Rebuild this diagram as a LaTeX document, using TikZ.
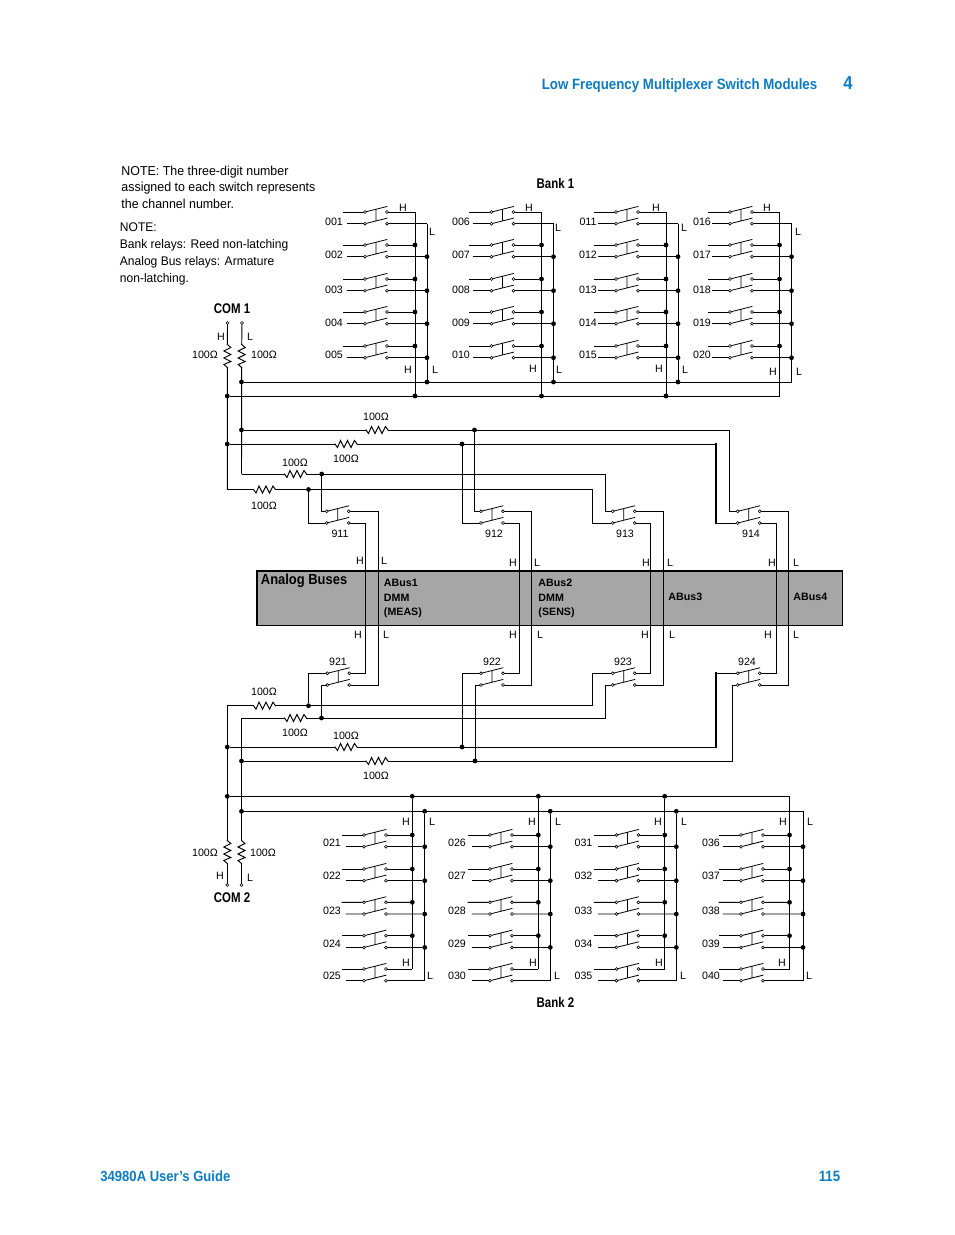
\documentclass[tikz,border=0pt]{standalone}
\usepackage{fontspec}
\setmainfont{Liberation Sans}
\newfontfamily\condfont[FakeStretch=.82]{Liberation Sans}
\newfontfamily\notefont[FakeStretch=.96]{Liberation Sans}
\newfontfamily\pagefont[FakeStretch=.89]{Liberation Sans}
\definecolor{headblue}{HTML}{0A7CC4}
\definecolor{busgrey}{HTML}{A6A6A6}
\newcommand{\channame}[1]{\ifnum#1<10 00\else 0\fi#1}
\tikzset{
  wire/.style={line width=.7pt,line cap=rect},
  heavywire/.style={line width=1.5pt},
  dot/.style={circle,fill=black,inner sep=0pt,minimum size=3.6pt},
  kink/.style={inner sep=0pt,minimum size=0pt},
  term/.style={circle,draw,fill=white,line width=.45pt,inner sep=0pt,minimum size=2.2pt},
  lbl/.style={font=\fontsize{8}{9.6}\selectfont,inner sep=0pt,yshift=-.4pt},
  notetext/.style={font=\notefont\fontsize{9.7}{12.4}\selectfont,inner sep=0pt,anchor=north west,align=left},
  headtext/.style={font=\condfont\bfseries\fontsize{10.5}{12}\selectfont,inner sep=0pt},
  pagetext/.style={font=\pagefont\bfseries\fontsize{11.2}{12}\selectfont,inner sep=0pt,text=headblue},
  bustext/.style={font=\bfseries\fontsize{8}{10.9}\selectfont,inner sep=0pt,anchor=north west,align=left},
  relay/.pic={
    \node[term] (-a) at (0,0) {};
    \node[term] (-b) at (0,11.7) {};
    \node[term] (-c) at (22,0) {};
    \node[term] (-d) at (22,11.7) {};
    \draw[line width=.6pt] (-a) -- (22,-5.5) (-b) -- (22,6.2) (11,-2.75) -- (11,9);
  },
  hres/.pic={
    \coordinate (-w) at (-11,0);
    \coordinate (-e) at (11,0);
    \draw[wire] (-w) -- (-8.5,3.5) -- (-5.5,-3.5) -- (-2,3.5) -- (1.5,-3.5) -- (5,3.5) -- (8.5,-3.5) -- (-e);
  },
  vres/.pic={
    \coordinate (-n) at (0,-11.5);
    \coordinate (-s) at (0,11.5);
    \draw[wire] (-n) -- (3.5,-8.5) -- (-3.5,-5) -- (3.5,-1.5) -- (-3.5,2) -- (3.5,5.5) -- (-3.5,8.5) -- (-s);
  }
}
\begin{document}
\begin{tikzpicture}[x=.75pt,y=-.75pt,every path/.append style={wire}]
  \useasboundingbox (0,0) rectangle (954,1235);
  % page head and foot
  \node[pagetext] (pagehead) at (679.5,85.5) {Low Frequency Multiplexer Switch Modules};
  \node[pagetext,font=\pagefont\bfseries\fontsize{14}{14}\selectfont] (chapnum) at (848,83) {4};
  \node[pagetext,anchor=west,font=\pagefont\bfseries\fontsize{11}{12}\selectfont] (guide) at (100,1176) {34980A User’s Guide};
  \node[pagetext] (pagenum) at (829.5,1176) {115};
  % notes
  \node[notetext] (note1) at (121,165.5) {NOTE: The three-digit number\\assigned to each switch represents\\the channel number.};
  \node[notetext,font=\notefont\fontsize{9.4}{12.7}\selectfont] (note2) at (119.5,222.5) {NOTE:\\Bank relays: Reed non-latching\\Analog Bus relays: Armature\\non-latching.};
  \node[headtext,text=black] (bank1) at (555.5,183.5) {Bank 1};
  \node[headtext,text=black] (bank2) at (555.5,1002) {Bank 2};
  \node[headtext,text=black] (com1) at (232,309) {COM 1};
  \node[headtext,text=black] (com2) at (232,898) {COM 2};
  % analog buses
  \node[draw,fill=busgrey,minimum width=438.7pt,minimum height=40.7pt,inner sep=0pt] (abus) at (550.2,598.2) {};
  \draw[line width=1.5pt,line cap=butt] (abus.south west) -- (abus.north west) -- (abus.north east);
  \node[pagetext,text=black,font=\pagefont\bfseries\fontsize{10.9}{12}\selectfont,anchor=west] (abustitle) at (260.5,581) {Analog Buses};
  \node[bustext] (abus1) at (383.5,579) {ABus1\\DMM\\(MEAS)};
  \node[bustext] (abus2) at (538,579) {ABus2\\DMM\\(SENS)};
  \node[bustext] (abus3) at (668,593) {ABus3};
  \node[bustext] (abus4) at (793,593) {ABus4};
  % bank 1
  \foreach \col/\sx/\tx/\hx/\lx in {0/365/334/415/427,1/491.5/461/541.5/553.5,2/616/588/666/678,3/730/702/779.5/791.5} {
    \foreach \row/\sy/\ty in {1/212/221,2/245/254,3/279/289,4/312/322,5/346/354} {
      \pgfmathtruncatemacro\chan{5*\col+\row}
      \def\jst{dot}\ifnum\row=1 \def\jst{kink}\fi
      \pic (r\chan) at (\sx,\sy) {relay};
      \node[lbl] (t\chan) at (\tx,\ty) {\channame{\chan}};
      \coordinate (ua\chan) at (\sx-22,\sy);
      \coordinate (ub\chan) at (\sx-18,\sy+11.7);
      \node[\jst] (h\chan) at (\hx,\sy) {};
      \node[\jst] (l\chan) at (\lx,\sy+11.7) {};
      \draw (ua\chan) -- (r\chan-a) (ub\chan) -- (r\chan-b);
      \draw (r\chan-c) -- (h\chan) (r\chan-d) -- (l\chan);
    }
    \pgfmathtruncatemacro\topc{5*\col+1}
    \def\jst{dot}\ifnum\col=3 \def\jst{kink}\fi
    \node[\jst] (bh\col) at (\hx,396) {};
    \node[\jst] (bl\col) at (\lx,382) {};
    \draw (h\topc) -- (bh\col) (l\topc) -- (bl\col);
  }
  % bank 2
  \foreach \col/\sx/\tx/\hx/\lx in {0/364/332/412.3/424.7,1/490/457/538.3/550.3,2/616.4/583.5/664.7/676.3,3/741/711/789.5/803} {
    \foreach \row/\sy/\ty in {1/835/842,2/869/875,3/902.3/910,4/935.7/943,5/969/975} {
      \pgfmathtruncatemacro\chan{20+5*\col+\row}
      \def\jst{dot}\ifnum\row=5 \def\jst{kink}\fi
      \pic (r\chan) at (\sx,\sy) {relay};
      \node[lbl] (t\chan) at (\tx,\ty) {\channame{\chan}};
      \coordinate (ua\chan) at (\sx-22,\sy);
      \coordinate (ub\chan) at (\sx-18,\sy+11.7);
      \node[\jst] (h\chan) at (\hx,\sy) {};
      \node[\jst] (l\chan) at (\lx,\sy+11.7) {};
      \draw (ua\chan) -- (r\chan-a) (ub\chan) -- (r\chan-b);
      \draw (r\chan-c) -- (h\chan) (r\chan-d) -- (l\chan);
    }
    \pgfmathtruncatemacro\botc{25+5*\col}
    \def\jst{dot}\ifnum\col=3 \def\jst{kink}\fi
    \node[\jst] (ch\col) at (\hx,796.3) {};
    \node[\jst] (cl\col) at (\lx,811.3) {};
    \draw (ch\col) -- (h\botc) (cl\col) -- (l\botc);
  }
  % common lines
  \node[dot] (dh1) at (227.3,396) {};
  \node[dot] (dl1) at (241.5,382) {};
  \node[dot] (dh3) at (227.3,796.3) {};
  \node[dot] (dl3) at (241.5,811.3) {};
  \draw (dh1) -- (bh3) (dl1) -- (bl3) (dh3) -- (ch3) (dl3) -- (cl3);
  % analog bus relays
  \foreach \n/\ux/\lx/\hx/\bx/\tlx/\blx in {1/326.7/327.3/365.7/378.5/340/338,2/481/481/519.5/531.5/494/492,3/612.7/612.7/650.7/663.3/625/623,4/737.7/737.7/776.7/788.7/751/747} {
    \pic (r91\n) at (\ux,511.3) {relay};
    \pic (r92\n) at (\lx,673.3) {relay};
    \node[lbl] (t91\n) at (\tlx,533) {91\n};
    \node[lbl] (t92\n) at (\blx,661) {92\n};
    \coordinate (vh\n) at (\hx,600);
    \coordinate (vl\n) at (\bx,600);
    \draw (r91\n-d) -| (vh\n) |- (r92\n-c);
    \draw (r91\n-c) -| (vl\n) |- (r92\n-d);
  }
  % resistor lines to the relays
  \foreach \nm/\sx/\sy/\rx/\jx/\vx/\far/\near/\st in {
      a/241.5/430/377/474.5/729.5/r914-a/r912-a/dot,
      b/227.3/444/346/462/716/r914-b/r912-b/dot,
      c/241.5/474/295.5/321.7/605.6/r913-a/r911-a/kink,
      d/227.3/489.5/264.5/308.5/592.7/r913-b/r911-b/kink,
      e/241.5/761/377/475/732.5/r924-b/r922-b/dot,
      f/227.3/747/346/462/716/r924-a/r922-a/dot,
      g/241.5/718/295.5/321.5/605.6/r923-b/r921-b/kink,
      h/227.3/705.7/264.5/308.5/592.7/r923-a/r921-a/kink} {
    \node[\st] (s\nm) at (\sx,\sy) {};
    \pic (res\nm) at (\rx,\sy) {hres};
    \node[dot] (j\nm) at (\jx,\sy) {};
    \coordinate (v\nm) at (\vx,\sy);
    \draw (s\nm) -- (res\nm-w) (res\nm-e) -- (v\nm) |- (\far);
    \draw (j\nm) |- (\near);
  }
  \draw[heavywire] (vb) -- (vb |- r914-b);
  \draw[heavywire] (vf) -- (vf |- r924-a);
  % COM terminals
  \node[term] (com1h) at (227.5,323) {};
  \node[term] (com1l) at (242,323) {};
  \node[term] (com2h) at (227.3,885) {};
  \node[term] (com2l) at (241.5,885) {};
  \pic (rh1) at (227.4,356) {vres};
  \pic (rl1) at (241.7,356) {vres};
  \pic (rh2) at (227.3,852) {vres};
  \pic (rl2) at (241.5,852) {vres};
  \draw (com1h) -- (rh1-n) (rh1-s) -- (sd);
  \draw (com1l) -- (rl1-n) (rl1-s) -- (sc);
  \draw (sh) -- (rh2-n) (rh2-s) -- (com2h);
  \draw (sg) -- (rl2-n) (rl2-s) -- (com2l);
  % values
  \foreach \x/\y [count=\i] in {376/416,346/458,295/462,264/505,264/691,295/732,346/735,376/775,205/354,264/354,205/852,263/852} {
    \node[lbl] (ohm\i) at (\x,\y) {100Ω};
  }
  % H and L marks
  \foreach \x/\y [count=\i] in {403/207,529/207,656/207,767/207,408/369,533/368,659/368,773/371,360/560,513/562,646/562,772/562,358/634,513/634,645/634,768/634,406/821,532/821,658/821,783/821,406/962,533/962,659/962,782/962,221/336,220/875} {
    \node[lbl] (mh\i) at (\x,\y) {H};
  }
  \foreach \x/\y [count=\i] in {432/231,558/227,684/227,798/231,435/369,559/369,685/369,799/371,384/560,537/562,670/562,796/562,386/634,540/634,672/634,796/634,432/821,558/821,684/821,810/821,430/975,557/975,683/975,809/975,250/336,250/877} {
    \node[lbl] (ml\i) at (\x,\y) {L};
  }
\end{tikzpicture}
\end{document}
